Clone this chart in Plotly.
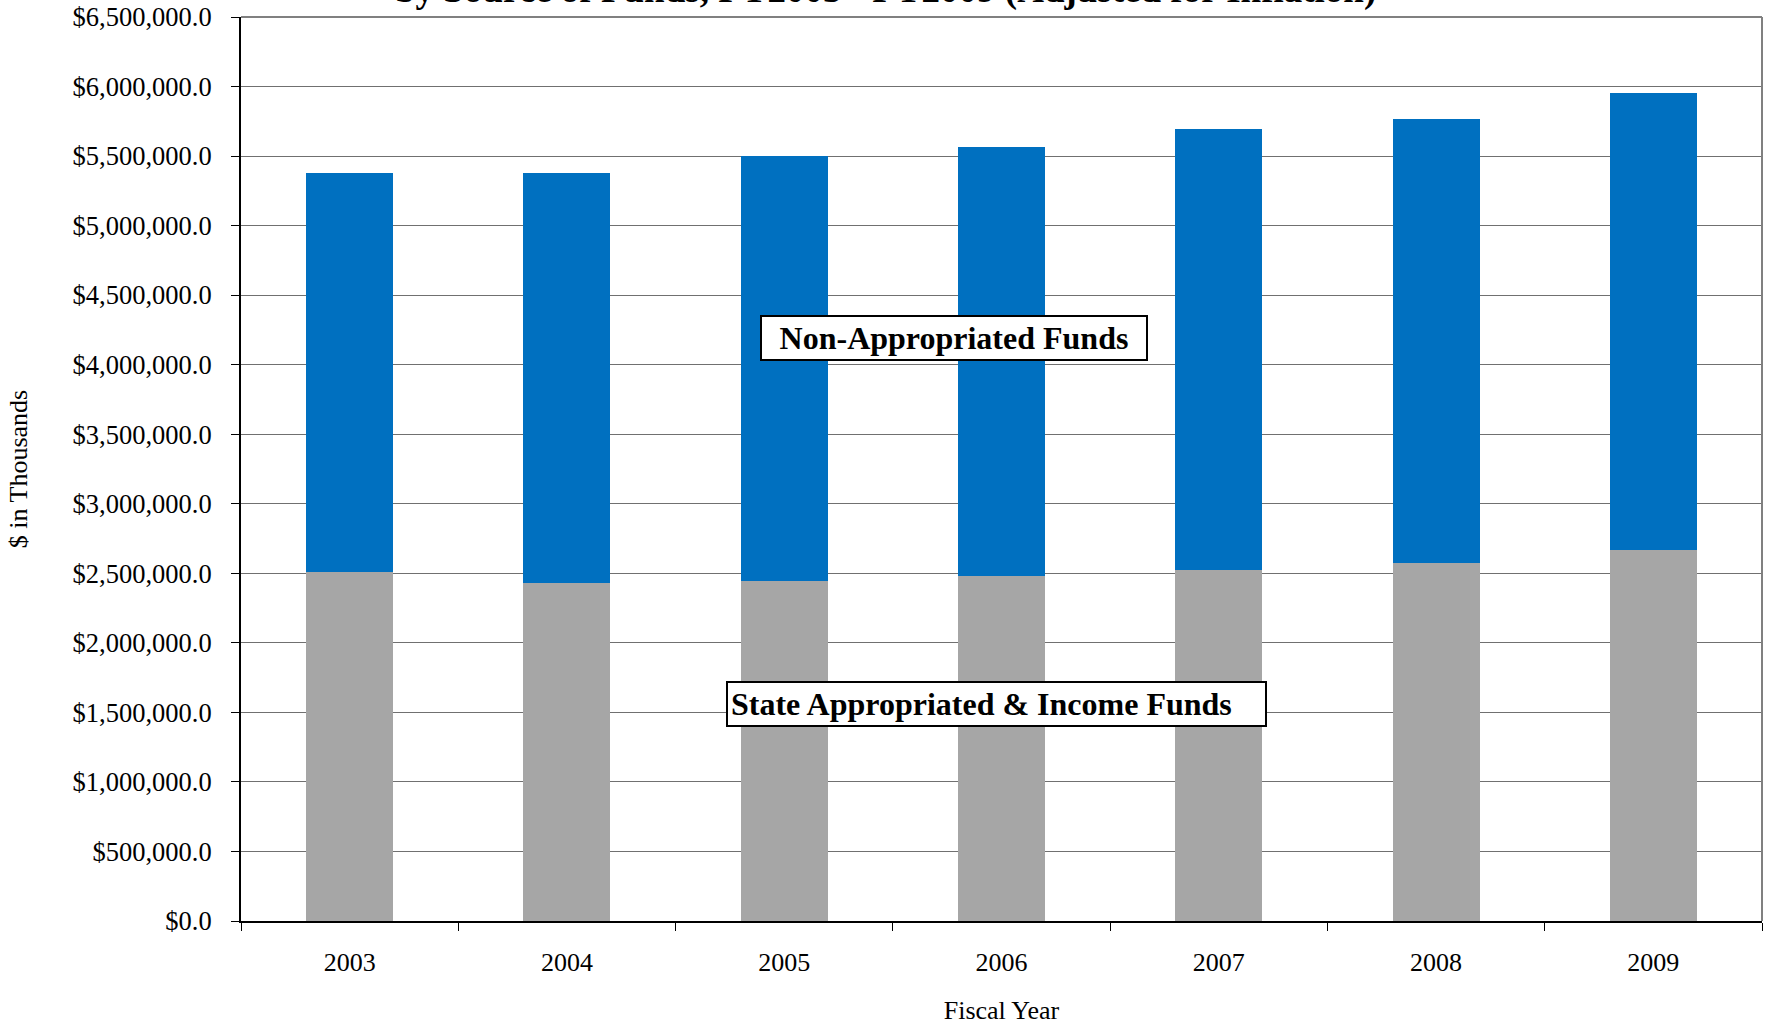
import plotly.graph_objects as go

years = ["2003", "2004", "2005", "2006", "2007", "2008", "2009"]
state_funds = [2511000, 2427000, 2448000, 2482000, 2527000, 2576000, 2668000]
totals = [5376000, 5381000, 5498000, 5568000, 5693000, 5770000, 5950000]
non_approp_funds = [t - s for t, s in zip(totals, state_funds)]

FONT = "Liberation Serif"

fig = go.Figure()
fig.add_trace(go.Bar(x=years, y=state_funds, name="State Appropriated & Income Funds",
                     marker=dict(color="#A6A6A6", line=dict(width=0)), width=0.4))
fig.add_trace(go.Bar(x=years, y=non_approp_funds, name="Non-Appropriated Funds",
                     marker=dict(color="#0070C0", line=dict(width=0)), width=0.4))

fig.update_layout(
    barmode="stack",
    width=1765, height=1027,
    margin=dict(l=241, r=3, t=17, b=106),
    paper_bgcolor="white", plot_bgcolor="white",
    showlegend=False,
    font=dict(family=FONT, size=26, color="black"),
)

fig.update_xaxes(
    type="category",
    tickson="boundaries",
    ticks="outside", ticklen=8, tickcolor="black", tickwidth=1,
    showline=True, linecolor="black", linewidth=2,
    showgrid=False,
    ticklabelstandoff=17,
    tickfont=dict(family=FONT, size=26),
    title=dict(text="Fiscal Year", font=dict(family=FONT, size=26), standoff=25),
)
fig.update_yaxes(
    range=[0, 6500000], dtick=500000, tick0=0,
    tickprefix="$", tickformat=",.1f",
    ticks="outside", ticklen=8, tickcolor="black", tickwidth=1,
    showline=True, linecolor="black", linewidth=2,
    showgrid=True, gridcolor="#707070", gridwidth=1,
    zeroline=False,
    ticklabelstandoff=14,
    tickfont=dict(family=FONT, size=26.5),
    title=dict(text="$ in Thousands", font=dict(family=FONT, size=26), standoff=37),
)

# frame on top/right
fig.add_shape(type="line", xref="paper", yref="paper", x0=0, x1=1, y0=1, y1=1,
              line=dict(color="#808080", width=2))
fig.add_shape(type="line", xref="paper", yref="paper", x0=1, x1=1, y0=0, y1=1,
              line=dict(color="#808080", width=2))

fig.add_annotation(
    text="<b>by Source of Funds, FY2003 - FY2009 (Adjusted for Inflation)</b>",
    xref="paper", yref="paper", x=0.424, y=1.0, xanchor="center", yanchor="bottom",
    yshift=4,
    showarrow=False, font=dict(family=FONT, size=37, color="black"),
)
fig.add_annotation(
    text="<b>Non-Appropriated Funds</b>",
    xref="paper", yref="paper", x=0.469, y=0.645, xanchor="center", yanchor="middle",
    showarrow=False, font=dict(family=FONT, size=32, color="black"),
    bgcolor="white", bordercolor="black", borderwidth=2, borderpad=3,
    width=378, align="center",
)
fig.add_annotation(
    text="<b>State Appropriated & Income Funds</b>",
    xref="paper", yref="paper", x=0.497, y=0.240, xanchor="center", yanchor="middle",
    showarrow=False, font=dict(family=FONT, size=32, color="black"),
    bgcolor="white", bordercolor="black", borderwidth=2, borderpad=3,
    width=531, align="left",
)

fig.write_html("out.html", config={"displayModeBar": False},
               post_script="document.body.style.margin='0';")
